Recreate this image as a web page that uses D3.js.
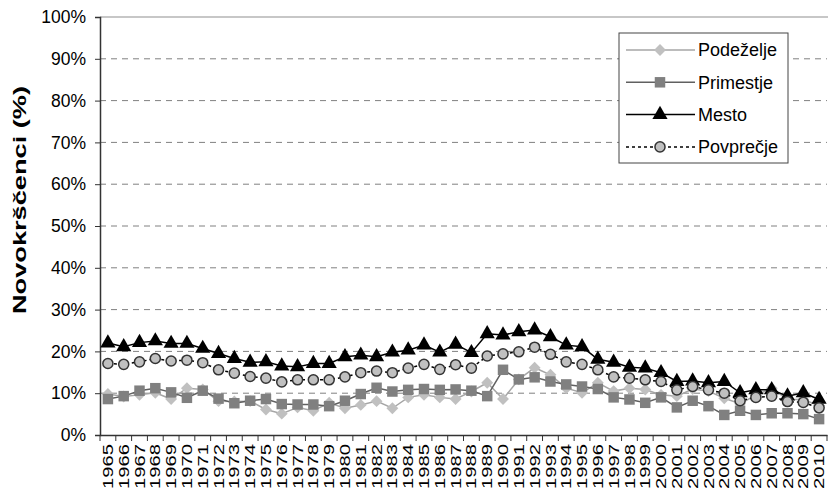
<!DOCTYPE html>
<html>
<head>
<meta charset="utf-8">
<script src="https://cdn.jsdelivr.net/npm/d3@7/dist/d3.min.js"></script>
<style>
  body { margin: 0; background: #fff; }
  svg { font-family: "Liberation Sans", Arial, sans-serif; }
</style>
</head>
<body>
<svg id="chart" width="828" height="490"></svg>
<script>
const years = d3.range(1965, 2011).map(String);

const podezelje = [9.8, 9.2, 9.6, 10.1, 8.6, 11.2, 10.9, 8.1, 8.0, 8.1,
  6.1, 5.1, 6.6, 5.8, 7.7, 6.4, 7.2, 8.1, 6.4, 9.0,
  9.6, 9.0, 8.6, 10.4, 12.5, 8.6, 13.3, 16.1, 14.4, 11.2,
  10.1, 12.5, 10.5, 11.2, 10.9, 9.6, 9.3, 11.0, 10.5, 8.8,
  7.5, 9.5, 11.2, 8.5, 8.5, 7.0];
const primestje = [8.6, 9.3, 10.6, 11.2, 10.2, 8.9, 10.6, 8.7, 7.6, 8.2,
  8.6, 7.4, 7.3, 7.3, 6.9, 8.2, 9.8, 11.3, 10.4, 10.8,
  11.0, 10.8, 10.9, 10.6, 9.3, 15.6, 13.3, 13.8, 12.8, 12.1,
  11.6, 11.0, 9.0, 8.5, 7.7, 9.0, 6.6, 8.2, 6.9, 4.8,
  5.8, 4.8, 5.2, 5.2, 5.0, 3.8];
const mesto = [22, 21.1, 22.1, 22.5, 21.9, 21.9, 20.7, 19.5, 18.3, 17.4,
  17.5, 16.5, 16.3, 17.1, 17.1, 18.7, 19.1, 18.7, 19.8, 20.3,
  21.5, 19.8, 21.7, 19.7, 24.2, 23.9, 24.7, 25.1, 23.5, 21.5,
  21.1, 18.1, 17.4, 16.2, 16.0, 14.9, 12.8, 12.9, 12.5, 12.8,
  10.1, 10.8, 10.8, 9.3, 10.1, 8.5];
const povprecje = [17.1, 16.9, 17.5, 18.3, 17.7, 17.9, 17.3, 15.6, 14.8, 14.0,
  13.6, 12.7, 13.2, 13.2, 13.2, 13.9, 14.9, 15.3, 14.9, 16.0,
  16.9, 15.7, 16.8, 16.0, 18.9, 19.4, 19.9, 21.0, 19.3, 17.5,
  16.9, 15.6, 13.9, 13.6, 13.2, 12.8, 10.8, 11.6, 10.8, 10.0,
  8.2, 9.0, 9.3, 8.0, 7.8, 6.5];

const yTicks = [0, 10, 20, 30, 40, 50, 60, 70, 80, 90, 100];

const series = [
  { name: 'Podeželje', values: podezelje, line: '#a6a6a6', dash: null, marker: 'diamond', fill: '#c0c0c0', stroke: 'none' },
  { name: 'Primestje', values: primestje, line: '#606060', dash: null, marker: 'square', fill: '#808080', stroke: 'none' },
  { name: 'Mesto', values: mesto, line: '#000000', dash: null, marker: 'triangle', fill: '#000000', stroke: 'none' },
  { name: 'Povprečje', values: povprecje, line: '#000000', dash: '3,3', marker: 'circle', fill: '#c0c0c0', stroke: '#333333' }
];

const svgArea = { left: 100, right: 827, top: 17, bottom: 435 };
const svg = d3.select('#chart');

const x = d3.scaleBand().domain(years).range([svgArea.left, svgArea.right]);
const y = d3.scaleLinear().domain([0, 100]).range([svgArea.bottom, svgArea.top]);

// gridlines
svg.append('g')
  .selectAll('line')
  .data(yTicks.filter(t => t > 0 && t < 100))
  .enter().append('line')
  .attr('x1', svgArea.left)
  .attr('x2', svgArea.right)
  .attr('y1', d => y(d))
  .attr('y2', d => y(d))
  .attr('stroke', '#808080')
  .attr('stroke-width', 1)
  .attr('stroke-dasharray', '6,5');
svg.append('line')
  .attr('x1', svgArea.left).attr('x2', 828)
  .attr('y1', y(100)).attr('y2', y(100))
  .attr('stroke', '#909090').attr('stroke-width', 1.2);

// y axis
const yAxis = svg.append('g')
  .attr('transform', `translate(${svgArea.left},0)`)
  .call(d3.axisLeft(y).tickValues(yTicks).tickSize(5).tickPadding(9).tickFormat(d => d + '%'));
yAxis.select('.domain').attr('stroke', '#333').attr('stroke-width', 1.5);
yAxis.selectAll('.tick line').attr('stroke', '#333');
yAxis.selectAll('text').attr('font-size', 17.5).attr('fill', '#000')
  .attr('font-family', '"Liberation Sans", Arial, sans-serif');

// x axis
const xAxis = svg.append('g')
  .attr('transform', `translate(0,${svgArea.bottom})`)
  .call(d3.axisBottom(x).tickSize(0).tickPadding(0));
xAxis.select('.domain').attr('stroke', '#333').attr('stroke-width', 1.5);
xAxis.selectAll('.tick text')
  .attr('font-size', 14.5)
  .attr('fill', '#000')
  .attr('font-family', '"Liberation Sans", Arial, sans-serif')
  .attr('text-anchor', 'end')
  .attr('dy', '0.35em')
  .attr('transform', 'translate(0,9) rotate(-90)')
  .attr('textLength', 45)
  .attr('lengthAdjust', 'spacingAndGlyphs');
svg.append('g')
  .selectAll('line')
  .data(years.concat(['end']))
  .enter().append('line')
  .attr('x1', (d, i) => svgArea.left + i * x.step())
  .attr('x2', (d, i) => svgArea.left + i * x.step())
  .attr('y1', svgArea.bottom)
  .attr('y2', svgArea.bottom + 6)
  .attr('stroke', '#333');

// y title
svg.append('text')
  .attr('transform', 'translate(26,200) rotate(-90)')
  .attr('text-anchor', 'middle')
  .attr('font-size', 18.5)
  .attr('font-weight', 'bold')
  .attr('textLength', 228)
  .attr('lengthAdjust', 'spacingAndGlyphs')
  .text('Novokrščenci (%)');

const symbolOf = {
  diamond: d3.symbol().type(d3.symbolDiamond2).size(90),
  square: d3.symbol().type(d3.symbolSquare).size(110),
  triangle: d3.symbol().type(d3.symbolTriangle).size(100),
  circle: d3.symbol().type(d3.symbolCircle).size(80)
};

const xc = i => x(years[i]) + x.bandwidth() / 2;

for (const s of series) {
  svg.append('path')
    .datum(s.values)
    .attr('fill', 'none')
    .attr('stroke', s.line)
    .attr('stroke-width', 1.5)
    .attr('stroke-dasharray', s.dash)
    .attr('d', d3.line().x((d, i) => xc(i)).y(d => y(d)));
  svg.append('g')
    .selectAll('path')
    .data(s.values)
    .enter().append('path')
    .attr('transform', (d, i) => `translate(${xc(i)},${y(d)})`)
    .attr('d', symbolOf[s.marker])
    .attr('fill', s.fill)
    .attr('stroke', s.stroke)
    .attr('stroke-width', 1.5);
}

// legend
const legend = svg.append('g').attr('transform', 'translate(619,33)');
legend.append('rect')
  .attr('width', 169).attr('height', 130)
  .attr('fill', '#fff').attr('stroke', '#444').attr('stroke-width', 1);
series.forEach((s, i) => {
  const ly = 17 + i * 32.3;
  legend.append('line')
    .attr('x1', 7).attr('x2', 76).attr('y1', ly).attr('y2', ly)
    .attr('stroke', s.line).attr('stroke-width', 1.5)
    .attr('stroke-dasharray', s.dash);
  legend.append('path')
    .attr('transform', `translate(41,${ly})`)
    .attr('d', symbolOf[s.marker])
    .attr('fill', s.fill)
    .attr('stroke', s.stroke)
    .attr('stroke-width', 1.5);
  legend.append('text')
    .attr('x', 79).attr('y', ly).attr('dy', '0.35em')
    .attr('font-size', 18)
    .text(s.name);
});
</script>
</body>
</html>
